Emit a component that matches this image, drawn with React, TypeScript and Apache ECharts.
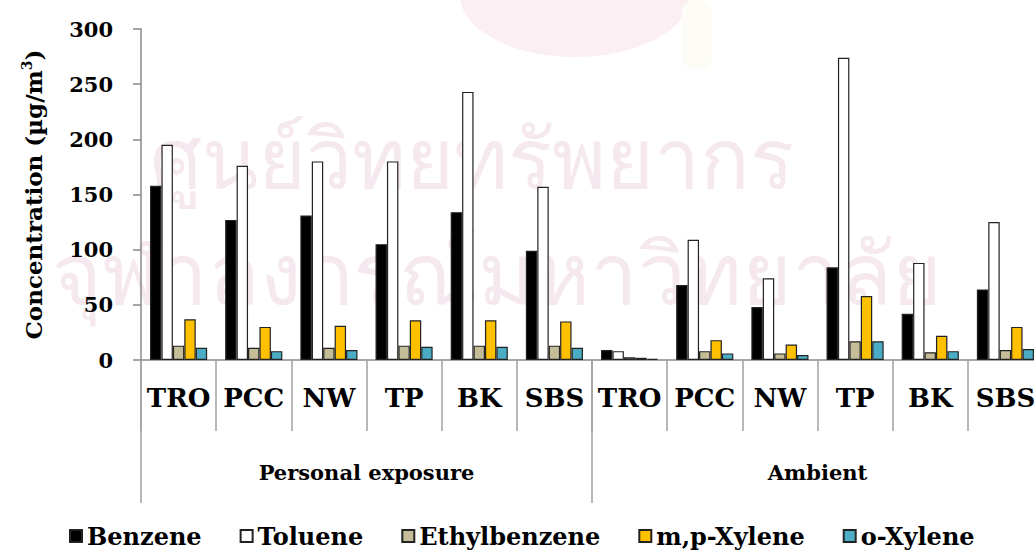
import React, { useEffect, useRef } from "react";
import * as echarts from "echarts";

const sites = ["TRO", "PCC", "NW", "TP", "BK", "SBS", "TRO", "PCC", "NW", "TP", "BK", "SBS"];
const groups = ["Personal exposure", "Ambient"];
const yTicks = [0, 50, 100, 150, 200, 250, 300];

const benzene = [158, 127, 131, 105, 134, 99, 9, 68, 48, 84, 42, 64];
const toluene = [195, 176, 180, 180, 243, 157, 8, 109, 74, 274, 88, 125];
const ethylbenzene = [13, 11, 11, 13, 13, 13, 2.5, 8, 6, 17, 7, 9];
const mpXylene = [37, 30, 31, 36, 36, 35, 2, 18, 14, 58, 22, 30];
const oXylene = [11, 8, 9, 12, 12, 11, 1, 6, 4.5, 17, 8, 10];

const seriesNames = ["Benzene", "Toluene", "Ethylbenzene", "m,p-Xylene", "o-Xylene"];
const seriesData = [benzene, toluene, ethylbenzene, mpXylene, oXylene];
const seriesColors = ["#000000", "#ffffff", "#C4BD97", "#FFC000", "#4BACC6"];

const FONT = "DejaVu Serif";

export default function App() {
  const ref = useRef<HTMLDivElement>(null);
  useEffect(() => {
    if (!ref.current) return;
    const chart = echarts.init(ref.current, undefined, { renderer: "svg" });
    chart.setOption({
      animation: false,
      backgroundColor: "#ffffff",
      graphic: [
        {
          type: "ellipse",
          z: -10,
          silent: true,
          shape: { cx: 575, cy: -5, rx: 115, ry: 62 },
          style: { fill: "#fbeff3" },
        },
        {
          type: "rect",
          z: -10,
          silent: true,
          shape: { x: 682, y: 0, width: 30, height: 70, r: 12 },
          style: { fill: "#fdfcf7" },
        },
        {
          type: "text",
          z: -10,
          silent: true,
          left: 150,
          top: 118,
          style: { text: "ศูนย์วิทยทรัพยากร", fontSize: 82, fill: "#f5e8ef", fontFamily: "sans-serif" },
        },
        {
          type: "text",
          z: -10,
          silent: true,
          left: 52,
          top: 232,
          style: { text: "จุฬาลงกรณ์มหาวิทยาลัย", fontSize: 85, fill: "#f5e8ef", fontFamily: "sans-serif" },
        },
      ],
      grid: {
        left: 141,
        top: 29,
        height: 331,
        width: 902,
        containLabel: false,
        outerBoundsMode: "none",
      },
      legend: {
        left: 64,
        top: 519,
        itemWidth: 12,
        itemHeight: 12,
        itemGap: 38,
        icon: "rect",
        data: seriesNames,
        textStyle: { fontFamily: FONT, fontWeight: "bold", fontSize: 24, color: "#000" },
      },
      xAxis: [
        {
          type: "category",
          data: sites,
          position: "bottom",
          axisLine: { show: true, lineStyle: { color: "#8a8a8a", width: 1.5 } },
          axisTick: { show: true, interval: 0, length: 71, lineStyle: { color: "#a0a0a0", width: 1.5 } },
          axisLabel: {
            interval: 0,
            margin: 25,
            fontFamily: FONT,
            fontWeight: "bold",
            fontSize: 26,
            color: "#000",
          },
        },
        {
          type: "category",
          data: groups,
          position: "bottom",
          axisLine: { show: false },
          axisTick: { show: true, interval: 0, length: 143, lineStyle: { color: "#a0a0a0", width: 1.5 } },
          axisLabel: {
            interval: 0,
            margin: 102,
            fontFamily: FONT,
            fontWeight: "bold",
            fontSize: 21,
            color: "#000",
          },
        },
      ],
      yAxis: {
        type: "value",
        min: yTicks[0],
        max: yTicks[yTicks.length - 1],
        interval: 50,
        splitLine: { show: false },
        axisLine: { show: true, lineStyle: { color: "#8a8a8a", width: 1.5 } },
        axisTick: { show: true, length: 8, lineStyle: { color: "#8a8a8a", width: 1.5 } },
        axisLabel: { margin: 28, fontFamily: FONT, fontWeight: "bold", fontSize: 21, color: "#000" },
        name: "Concentration (µg/m{sup|3})",
        nameLocation: "middle",
        nameRotate: 90,
        nameGap: 95,
        nameTextStyle: {
          fontFamily: FONT,
          fontWeight: "bold",
          fontSize: 23,
          color: "#000",
          rich: {
            sup: { fontFamily: FONT, fontWeight: "bold", fontSize: 14, color: "#000", padding: [0, 0, 12, 0] },
          },
        },
      },
      series: seriesNames.map((name, i) => ({
        name,
        type: "bar",
        xAxisIndex: 0,
        data: seriesData[i],
        barGap: "0%",
        barCategoryGap: "24%",
        itemStyle: { color: seriesColors[i], borderColor: "#222", borderWidth: 1.2 },
      })),
    });
    return () => chart.dispose();
  }, []);
  return <div ref={ref} style={{ width: 1034, height: 551, position: "absolute", left: 0, top: 0 }} />;
}
